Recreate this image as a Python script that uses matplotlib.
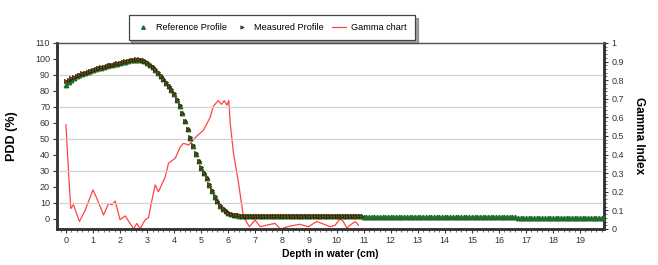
import numpy as np
import matplotlib
matplotlib.use("Agg")
import matplotlib.pyplot as plt
from matplotlib.ticker import MultipleLocator

plt.rcParams["font.family"] = ["Liberation Sans", "DejaVu Sans"]

# ── Data ──────────────────────────────────────────────────────────────
# measured profile, depth 0.0 .. 10.9 cm in 0.1 cm steps
meas_pdd = [
    86.0, 87.0, 88.0, 88.8, 89.5, 90.2, 90.9, 91.5, 92.1, 92.7,
    93.3, 93.8, 94.3, 94.8, 95.2, 95.7, 96.1, 96.5, 96.9, 97.3,
    97.7, 98.1, 98.5, 98.9, 99.3, 99.6, 99.8, 99.9, 99.6, 99.0,
    97.8, 96.5, 95.0, 93.4, 91.6, 89.6, 87.6, 85.4, 83.2, 81.0,
    78.6, 75.0, 71.0, 66.5, 61.5, 56.5, 51.0, 46.0, 41.0, 36.5,
    32.5, 29.0, 25.8, 22.0, 18.0, 14.5, 11.5, 8.8, 6.8, 5.2,
    4.0, 3.2, 2.7, 2.4, 2.2, 2.1, 2.0, 2.0, 2.0, 2.0,
    2.0, 2.0, 2.0, 2.0, 2.0, 2.0, 2.0, 2.0, 2.0, 2.0,
    2.0, 2.0, 2.0, 2.0, 2.0, 2.0, 2.0, 2.0, 2.0, 2.0,
    2.0, 2.0, 2.0, 2.0, 2.0, 2.0, 2.0, 2.0, 2.0, 2.0,
    2.0, 2.0, 2.0, 2.0, 2.0, 2.0, 2.0, 2.0, 2.0, 2.0,
]
# reference profile, depth 0.0 .. 19.9 cm in 0.1 cm steps
ref_pdd = [
    83.5, 85.5, 87.0, 88.2, 89.1, 89.9, 90.6, 91.3, 91.9, 92.5,
    93.1, 93.6, 94.1, 94.6, 95.0, 95.5, 95.9, 96.3, 96.7, 97.1,
    97.5, 97.9, 98.3, 98.7, 99.1, 99.4, 99.6, 99.6, 99.3, 98.7,
    97.5, 96.2, 94.7, 93.0, 91.2, 89.2, 87.2, 85.0, 82.8, 80.5,
    78.0, 74.5, 70.5, 66.0, 61.0, 56.0, 50.5, 45.5, 40.5, 36.0,
    32.0, 28.5, 25.3, 21.5, 17.5, 14.0, 11.0, 8.4, 6.4, 4.9,
    3.7, 3.0, 2.5, 2.2, 2.0, 1.9, 1.8, 1.8, 1.8, 1.8,
    1.8, 1.8, 1.8, 1.8, 1.8, 1.8, 1.8, 1.8, 1.8, 1.8,
    1.8, 1.8, 1.8, 1.8, 1.8, 1.8, 1.8, 1.8, 1.8, 1.8,
    1.8, 1.8, 1.8, 1.8, 1.8, 1.8, 1.8, 1.8, 1.8, 1.8,
    1.8, 1.8, 1.8, 1.8, 1.8, 1.8, 1.8, 1.8, 1.8, 1.8,
    1.5, 1.5, 1.5, 1.5, 1.5, 1.5, 1.5, 1.5, 1.5, 1.5,
    1.5, 1.5, 1.5, 1.5, 1.5, 1.5, 1.5, 1.5, 1.5, 1.5,
    1.5, 1.5, 1.5, 1.5, 1.5, 1.5, 1.5, 1.5, 1.5, 1.5,
    1.5, 1.5, 1.5, 1.5, 1.5, 1.5, 1.5, 1.5, 1.5, 1.5,
    1.5, 1.5, 1.5, 1.5, 1.5, 1.5, 1.5, 1.5, 1.5, 1.5,
    1.5, 1.5, 1.5, 1.5, 1.5, 1.5, 1.5, 0.9, 0.9, 0.9,
    0.9, 0.9, 0.9, 0.9, 0.9, 0.9, 0.9, 0.9, 0.9, 0.9,
    0.9, 0.9, 0.9, 0.9, 0.9, 0.9, 0.9, 0.9, 0.9, 0.9,
    0.9, 0.9, 0.9, 0.9, 0.9, 0.9, 0.9, 0.9, 0.9, 0.9,
]
meas_depth = np.arange(len(meas_pdd)) / 10.0
ref_depth = np.arange(len(ref_pdd)) / 10.0

gamma_depth = [0.0, 0.1, 0.18, 0.28, 0.5, 0.71, 1.0, 1.14, 1.39, 1.58,
               1.7, 1.82, 2.0, 2.19, 2.37, 2.5, 2.62, 2.74, 2.93, 3.05,
               3.18, 3.3, 3.42, 3.67, 3.79, 4.04, 4.22, 4.34, 4.47, 4.53,
               4.84, 5.08, 5.33, 5.45, 5.63, 5.75, 5.85, 5.95, 6.02, 6.07,
               6.19, 6.38, 6.56, 6.78, 6.99, 7.18, 7.4, 7.73, 7.92, 8.3,
               8.65, 8.96, 9.27, 9.63, 9.76, 9.95, 10.13, 10.25, 10.38, 10.5,
               10.69, 10.81]
gamma_val = [0.56, 0.30, 0.11, 0.13, 0.04, 0.10, 0.21, 0.165, 0.075, 0.138,
             0.13, 0.15, 0.05, 0.07, 0.03, 0.0, 0.03, 0.0, 0.05, 0.06,
             0.156, 0.237, 0.20, 0.28, 0.353, 0.38, 0.44, 0.46, 0.455, 0.45,
             0.50, 0.53, 0.60, 0.66, 0.69, 0.67, 0.69, 0.665, 0.69, 0.57,
             0.41, 0.245, 0.066, 0.012, 0.048, 0.012, 0.02, 0.03, 0.0, 0.016,
             0.025, 0.012, 0.04, 0.02, 0.012, 0.02, 0.055, 0.04, 0.005, 0.02,
             0.04, 0.02]

x_ticks = list(range(0, 20))
pdd_ticks = list(range(0, 111, 10))
gamma_ticks = [0, 0.1, 0.2, 0.3, 0.4, 0.5, 0.6, 0.7, 0.8, 0.9, 1]
gamma_labels = ["0", "0.1", "0.2", "0.3", "0.4", "0.5", "0.6", "0.7", "0.8", "0.9", "1"]

# ── Plot ──────────────────────────────────────────────────────────────
fig = plt.figure(figsize=(6.58, 2.65), dpi=100)
ax = fig.add_axes([0.0866, 0.136, 0.832, 0.702])
ax2 = ax.twinx()

for v in [10, 30, 50, 70, 90]:
    ax.axhline(v, color="#d0d0d0", lw=0.8, zorder=0)

h_ref, = ax.plot(ref_depth, ref_pdd, linestyle="none", marker="^", ms=3.2,
                 color="#1e6b2a", mec="#1e6b2a", label="Reference Profile", zorder=3)
h_meas, = ax.plot(meas_depth, meas_pdd, linestyle="none", marker=">", ms=3.0,
                  color="#7a4a10", mec="#2a1e08", mew=0.5, label="Measured Profile", zorder=4)
h_gam, = ax2.plot(gamma_depth, gamma_val, color="#ff4444", lw=0.9,
                  label="Gamma chart", zorder=2)

ax.set_xlim(-0.33, 19.9)
ax.set_ylim(-6.25, 110)
ax2.set_ylim(0, 1)

ax.set_xticks(x_ticks)
ax.xaxis.set_minor_locator(MultipleLocator(0.2))
ax.set_yticks(pdd_ticks)
ax2.set_yticks(gamma_ticks)
ax2.set_yticklabels(gamma_labels)
ax2.yaxis.set_minor_locator(MultipleLocator(0.02))

for a in (ax, ax2):
    a.tick_params(axis="both", which="major", labelsize=6.5, length=3, width=0.8,
                  colors="#333333", labelcolor="#333333", pad=2)
    a.tick_params(axis="both", which="minor", length=1.8, width=0.6, colors="#555555")
    for s in ("left", "bottom", "right"):
        a.spines[s].set_linewidth(1.8)
        a.spines[s].set_color("#333333")
    a.spines["top"].set_linewidth(0.9)
    a.spines["top"].set_color("#555555")

ax.set_ylabel("PDD (%)", fontsize=9, fontweight="bold")
ax.yaxis.set_label_coords(-0.072, 0.5)
ax2.set_ylabel("Gamma Index", fontsize=8.5, fontweight="bold", rotation=-90)
ax2.yaxis.set_label_coords(1.075, 0.5)
ax.set_xlabel("Depth in water (cm)", fontsize=7.5, fontweight="bold")
ax.xaxis.set_label_coords(0.5, -0.11)

ax.set_zorder(ax2.get_zorder() + 1)
ax.patch.set_visible(False)

leg = fig.legend(handles=[h_ref, h_meas, h_gam], loc="center",
                 bbox_to_anchor=(0.413, 0.896), ncol=3, fontsize=6.6,
                 frameon=True, fancybox=False, shadow=True, handlelength=1.5,
                 columnspacing=0.9, handletextpad=0.6, borderpad=0.85,
                 markerscale=0.8)
leg.get_frame().set_edgecolor("#444444")
leg.get_frame().set_linewidth(0.9)

fig.savefig("out.png", dpi=100)
